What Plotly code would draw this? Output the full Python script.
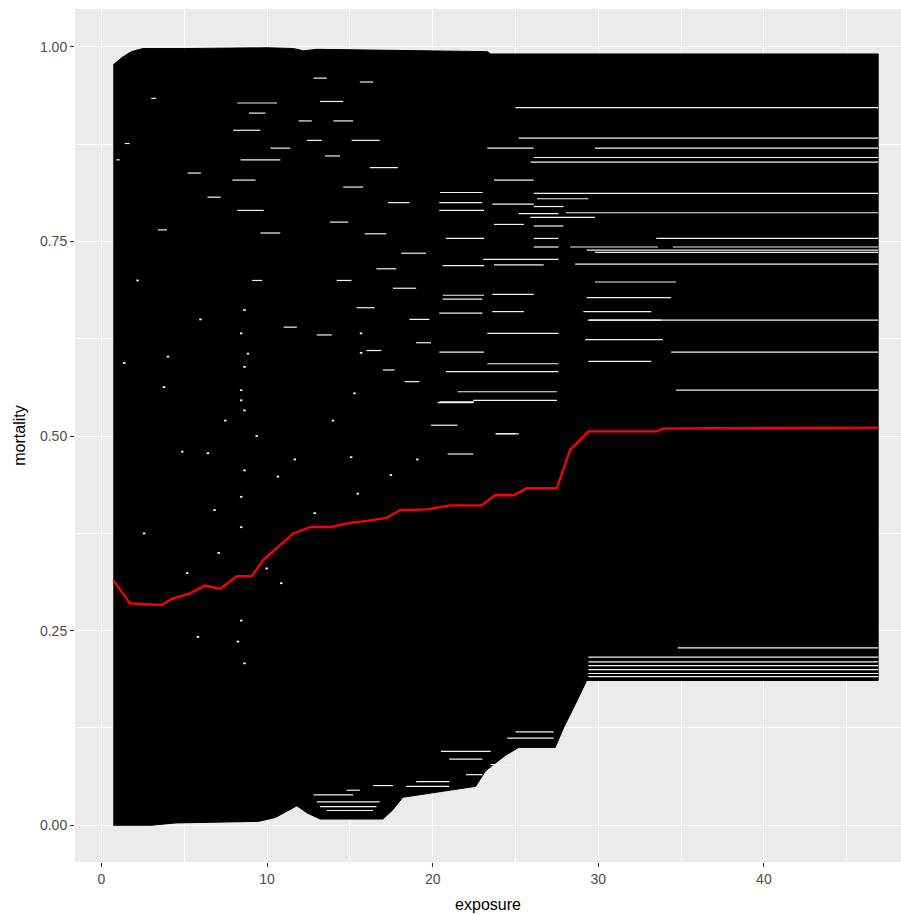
import plotly.graph_objects as go

# ---- data ----
# envelope of the individual (ICE) curves
upper_x = [0.71, 1.2, 1.8, 2.5, 5, 8, 10, 11.6, 12.2, 13.0, 16, 20, 23.3, 23.5, 46.9]
upper_y = [0.977, 0.986, 0.994, 0.998, 0.998, 0.999, 0.999, 0.998, 0.995, 0.997, 0.996, 0.995, 0.994, 0.991, 0.991]
lower_x = [0.71, 3.0, 4.5, 7.0, 9.5, 10.5, 11.3, 11.8, 12.4, 13.2, 17.0, 17.6, 18.2, 21.0, 22.6,
           23.2, 24.4, 25.2, 27.4, 27.9, 28.6, 29.3, 46.9]
lower_y = [0.0, 0.0, 0.003, 0.004, 0.005, 0.010, 0.019, 0.025, 0.016, 0.008, 0.008, 0.020, 0.036,
           0.045, 0.050, 0.070, 0.090, 0.100, 0.100, 0.125, 0.155, 0.186, 0.186]

# mean curve (red)
mean_x = [0.71, 1.72, 3.63, 4.24, 5.34, 6.25, 7.16, 8.16, 9.07, 9.77, 10.78, 11.58, 12.59, 13.80, 14.81,
          16.01, 17.22, 18.03, 19.64, 21.04, 22.96, 23.76, 24.87, 25.68, 27.49, 28.29, 29.40, 33.53,
          33.93, 34.83, 46.9]
mean_y = [0.315, 0.285, 0.283, 0.291, 0.298, 0.308, 0.304, 0.320, 0.320, 0.341, 0.360, 0.375, 0.383,
          0.383, 0.388, 0.391, 0.395, 0.405, 0.406, 0.411, 0.411, 0.424, 0.424, 0.433, 0.433, 0.482,
          0.506, 0.506, 0.510, 0.510, 0.511]

# gaps between the flat curves (start exposure, level) running to the last exposure
gap_start = [25.0, 25.2, 29.8, 26.1, 25.9, 26.1, 28.05, 33.5, 34.5, 29.3, 29.8, 28.6, 29.4, 34.4, 34.7,
             34.8, 29.4, 29.4, 29.4, 29.4, 29.4, 29.4]
gap_level = [0.922, 0.883, 0.870, 0.858, 0.852, 0.812, 0.787, 0.754, 0.743, 0.739, 0.736, 0.721, 0.649,
             0.608, 0.559, 0.228, 0.216, 0.210, 0.205, 0.200, 0.195, 0.191]
x_last = 46.9

# short gaps in the crossing region (x0, x1, level)
seg_x0 = [20.44, 23.7, 26.3, 20.4, 23.6, 26.1, 25.2, 25.9, 20.8, 26.1, 20.4, 23.7, 26.1, 28.3, 26.1, 20.6,
          23.7, 23.05, 29.8, 20.6, 23.6, 29.3, 20.6, 23.6, 29.1, 20.4, 23.3, 29.2, 20.4, 23.3, 29.4, 20.8,
          20.4, 22.45, 21.5, 23.8, 20.3, 23.8, 20.9, 19.9, 29.4, 23.3,
          # upper-left crossing area
          7.95, 8.2, 8.9, 8.4, 7.9, 8.2, 9.6, 5.2, 6.4, 3.4, 3.0, 1.4, 0.9, 10.2, 9.1, 11.0,
          13.2, 14.0, 15.1, 13.5, 16.2, 14.6, 17.3, 13.8, 15.9, 18.1, 16.6, 14.2, 17.6, 15.4, 18.6, 13.0,
          16.0, 11.9, 12.4, 17.0, 19.0, 18.3, 12.8, 15.6,
          # lower band near the bottom envelope
          12.8, 13.0, 13.2, 13.6, 14.8, 16.4, 18.4, 19.0, 20.5, 21.0, 24.5, 25.0, 22.0, 23.5]
seg_x1 = [23.02, 26.1, 29.4, 23.0, 26.1, 27.9, 27.6, 29.8, 23.1, 27.6, 23.1, 25.5, 27.9, 33.6, 27.6, 23.1,
          26.7, 27.6, 34.7, 23.1, 26.1, 34.4, 23.0, 25.5, 33.2, 23.0, 27.6, 33.9, 23.1, 27.6, 33.2, 27.6,
          22.5, 27.5, 27.5, 25.2, 22.45, 25.0, 22.45, 21.5, 33.8, 26.1,
          9.6, 10.6, 9.9, 10.8, 9.3, 9.8, 10.8, 6.0, 7.2, 3.95, 3.3, 1.7, 1.1, 11.4, 9.7, 11.8,
          14.6, 15.2, 16.8, 14.4, 17.9, 15.8, 18.6, 14.9, 17.2, 19.6, 17.8, 15.1, 19.0, 16.5, 19.8, 13.9,
          16.9, 12.7, 13.3, 17.7, 19.9, 19.2, 13.6, 16.4,
          15.2, 16.8, 16.6, 16.4, 15.6, 17.6, 21.0, 21.0, 23.5, 23.0, 27.3, 27.3, 23.0, 25.0]
seg_y = [0.813, 0.829, 0.805, 0.800, 0.798, 0.795, 0.786, 0.781, 0.754, 0.754, 0.790, 0.772, 0.770, 0.743,
         0.743, 0.719, 0.720, 0.727, 0.698, 0.681, 0.682, 0.678, 0.676, 0.660, 0.660, 0.658, 0.632, 0.624,
         0.608, 0.593, 0.596, 0.583, 0.544, 0.546, 0.557, 0.503, 0.543, 0.503, 0.477, 0.514, 0.649, 0.870,
         0.893, 0.928, 0.915, 0.855, 0.829, 0.790, 0.761, 0.838, 0.807, 0.765, 0.934, 0.876, 0.855, 0.870,
         0.700, 0.640,
         0.930, 0.905, 0.880, 0.860, 0.845, 0.820, 0.800, 0.775, 0.760, 0.735, 0.715, 0.700, 0.690, 0.665,
         0.650, 0.630, 0.610, 0.905, 0.880, 0.585, 0.620, 0.570, 0.960, 0.955,
         0.039, 0.030, 0.024, 0.019, 0.045, 0.051, 0.050, 0.056, 0.095, 0.085, 0.112, 0.120, 0.065, 0.078]

# isolated white specks (crossings) in the lower part of the crossing region
dot_x = [8.56, 8.36, 8.77, 8.56, 8.36, 8.36, 8.56, 8.56, 8.36, 8.36, 6.35, 6.75, 10.58, 15.4, 15.6, 15.6,
         15.2, 15.0, 12.8, 3.94, 3.7, 1.3, 2.5, 5.1, 5.75, 8.56, 8.16, 8.36, 10.78, 9.3, 7.4, 11.6, 4.8,
         2.1, 13.9, 17.4, 19.0, 9.9, 7.0, 5.9]
dot_y = [0.662, 0.632, 0.606, 0.589, 0.559, 0.546, 0.533, 0.456, 0.422, 0.383, 0.478, 0.405, 0.448, 0.426,
         0.632, 0.607, 0.555, 0.473, 0.401, 0.602, 0.563, 0.594, 0.375, 0.324, 0.242, 0.208, 0.236, 0.263,
         0.311, 0.500, 0.520, 0.470, 0.480, 0.700, 0.520, 0.450, 0.470, 0.330, 0.350, 0.650]
dot_len = 0.15

x_ticks = [0, 10, 20, 30, 40]
y_ticks = [0.0, 0.25, 0.5, 0.75, 1.0]
y_tick_text = ["0.00", "0.25", "0.50", "0.75", "1.00"]

# ---- figure ----
fig = go.Figure()

poly_x = upper_x + lower_x[::-1]
poly_y = upper_y + lower_y[::-1]
fig.add_trace(go.Scatter(x=poly_x, y=poly_y, mode="lines", fill="toself", fillcolor="black",
                         line=dict(color="black", width=1), hoverinfo="skip", showlegend=False))

gx, gy = [], []
for s, lv in zip(gap_start, gap_level):
    gx += [s, x_last, None]
    gy += [lv, lv, None]
for a, b, lv in zip(seg_x0, seg_x1, seg_y):
    gx += [a, b, None]
    gy += [lv, lv, None]
fig.add_trace(go.Scatter(x=gx, y=gy, mode="lines", line=dict(color="#F2F2F2", width=1.2),
                         hoverinfo="skip", showlegend=False))

dx, dy = [], []
for a, lv in zip(dot_x, dot_y):
    dx += [a, a + dot_len, None]
    dy += [lv, lv, None]
fig.add_trace(go.Scatter(x=dx, y=dy, mode="lines", line=dict(color="#F5F5F5", width=1.8),
                         hoverinfo="skip", showlegend=False))

fig.add_trace(go.Scatter(x=mean_x, y=mean_y, mode="lines", line=dict(color="#FF0000", width=2.3),
                         showlegend=False))

axis_common = dict(
    showgrid=True, gridcolor="white", gridwidth=1.2, zeroline=False, showline=False,
    ticks="outside", ticklen=4, tickwidth=1, tickcolor="#333333",
    tickfont=dict(family="Liberation Sans, Arial, sans-serif", size=14, color="#4D4D4D"),
    minor=dict(showgrid=True, gridcolor="white", gridwidth=0.6),
)

fig.update_layout(
    width=901, height=915,
    margin=dict(l=75, r=0, t=9, b=53),
    paper_bgcolor="white", plot_bgcolor="#EBEBEB",
    font=dict(family="Liberation Sans, Arial, sans-serif"),
    xaxis=dict(range=[-1.6, 48.28], tickvals=x_ticks, minor_dtick=5,
               title=dict(text="exposure", font=dict(size=16, color="black"), standoff=13),
               **axis_common),
    yaxis=dict(range=[-0.0472, 1.0488], tickvals=y_ticks, ticktext=y_tick_text, minor_dtick=0.125,
               minor_tick0=0,
               title=dict(text="mortality", font=dict(size=16, color="black"), standoff=10),
               **axis_common),
)

fig.write_html("out.html")
